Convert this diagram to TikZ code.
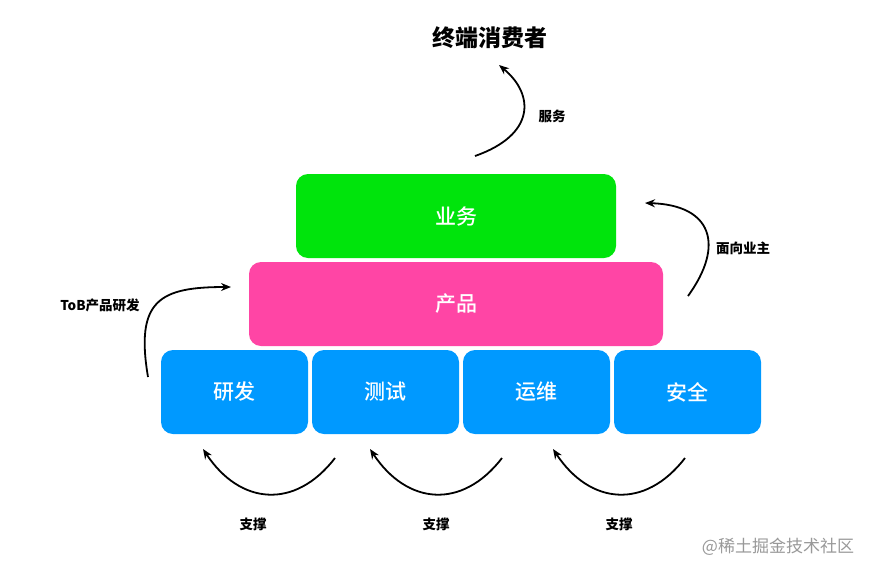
\documentclass[tikz,border=0pt]{standalone}
\usepackage{fontspec}
\setmainfont{Noto Sans CJK SC}
\newfontfamily\medfont{Noto Sans CJK SC Medium}
\usepackage{tikz}
\usetikzlibrary{arrows.meta}
\definecolor{bizgreen}{RGB}{0,228,12}
\definecolor{prodpink}{RGB}{255,69,165}
\definecolor{teamblue}{RGB}{0,153,255}
\tikzset{
    layer/.style={rounded corners=12pt, inner sep=0pt, outer sep=0pt,
        minimum height=84pt, text=white, font=\medfont\fontsize{21}{24}\selectfont},
    flow/.style={-{Stealth[length=10pt,width=8pt]}, line width=1.8pt},
    note/.style={font=\bfseries\fontsize{13.5}{16}\selectfont},
}
\begin{document}
\begin{tikzpicture}[x=1pt,y=-1pt]
    \useasboundingbox (0,0) rectangle (876,576);
    \fill[white] (0,0) rectangle (876,576);
    % layers
    \node[layer, fill=bizgreen, minimum width=320pt] (biz) at (456,216) {业务};
    \node[layer, fill=prodpink, minimum width=414pt] (prod) at (456,304) {产品};
    \node[layer, fill=teamblue, minimum width=147pt] (dev) at (234.5,392) {研发};
    \node[layer, fill=teamblue, minimum width=147pt] (test) at (385.5,392) {测试};
    \node[layer, fill=teamblue, minimum width=147pt] (ops) at (536.5,392) {运维};
    \node[layer, fill=teamblue, minimum width=147pt] (sec) at (687.5,392) {安全};
    \node[font=\bfseries\fontsize{23}{26}\selectfont] (user) at (490,38) {终端消费者};
    % arrows
    \coordinate (serveA) at (475,156);
    \coordinate (serveB) at (499,65);
    \draw[flow] (serveA) .. controls (535,135) and (535,95) .. (serveB);
    \node[note] (serve) at (552,116) {服务};
    \coordinate (tobA) at (148,377);
    \coordinate (tobB) at (231,287);
    \draw[flow] (tobA) .. controls (135,300) and (160,287) .. (tobB);
    \node[note] (tob) at (100,305) {ToB产品研发};
    \coordinate (ownA) at (688,296);
    \coordinate (ownB) at (645,203);
    \draw[flow] (ownA) .. controls (725,245) and (712,205) .. (ownB);
    \node[note] (own) at (743,248) {面向业主};
    \foreach \dx/\lx/\nm in {0/0/a,167/183/b,350/366/c}{
        \coordinate (sup\nm A) at (335+\dx,458);
        \coordinate (sup\nm B) at (203+\dx,449);
        \draw[flow] (sup\nm A) .. controls (295+\dx,510) and (240+\dx,505) .. (sup\nm B);
        \node[note] (sup\nm) at (253+\lx,524) {支撑};
    }
    \node[text=black!40, font=\fontsize{17}{20}\selectfont] (mark) at (778,547) {@稀土掘金技术社区};
\end{tikzpicture}
\end{document}
